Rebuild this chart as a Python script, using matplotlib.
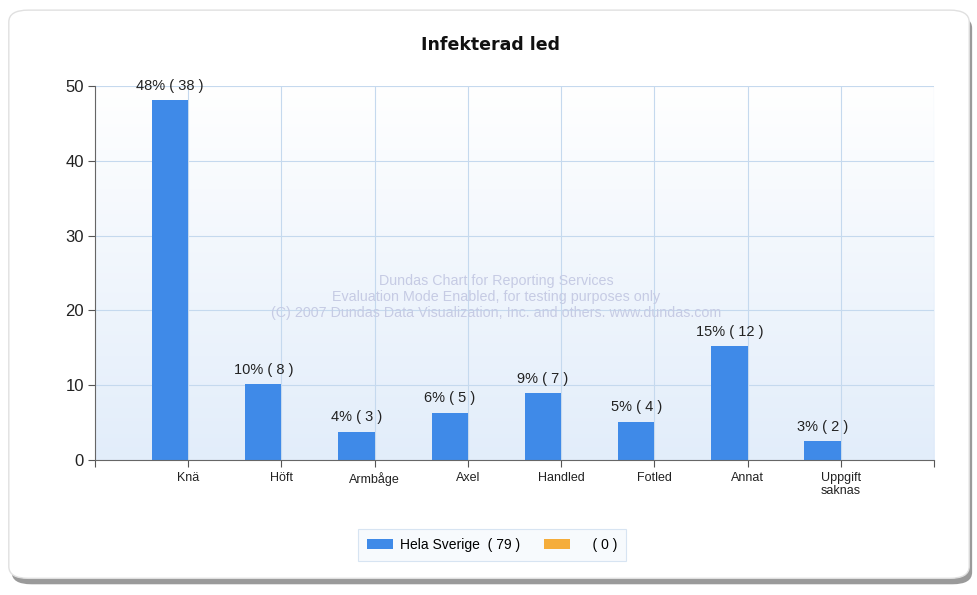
import numpy as np
import matplotlib.pyplot as plt
from matplotlib.colors import LinearSegmentedColormap
from matplotlib.patches import FancyBboxPatch

plt.rcParams['font.family'] = ['Liberation Sans', 'DejaVu Sans']

# data
categories = ['Knä', 'Höft', 'Armbåge', 'Axel', 'Handled', 'Fotled', 'Annat', 'Uppgift\nsaknas']
percent = [48.1, 10.1, 3.8, 6.3, 8.9, 5.1, 15.2, 2.5]
counts = [38, 8, 3, 5, 7, 4, 12, 2]
other = [0, 0, 0, 0, 0, 0, 0, 0]
pct_labels = ['48%', '10%', '4%', '6%', '9%', '5%', '15%', '3%']
series_names = ['Hela Sverige  ( 79 )', '    ( 0 )']

blue = '#3f8ae8'
orange = '#f5ad3b'

fig = plt.figure(figsize=(9.78, 5.95), dpi=100)
fig.patch.set_facecolor('white')

# card with shadow
shadow = FancyBboxPatch((0.012, 0.018), 0.982, 0.955, boxstyle='round,pad=0,rounding_size=0.02',
                        transform=fig.transFigure, facecolor='#9a9a9a', edgecolor='none', zorder=0)
card = FancyBboxPatch((0.009, 0.028), 0.982, 0.955, boxstyle='round,pad=0,rounding_size=0.02',
                      transform=fig.transFigure, facecolor='white', edgecolor='#e0e0e0', lw=1, zorder=0.5)
fig.patches.extend([shadow, card])

ax = fig.add_axes([0.0971, 0.2269, 0.858, 0.6286])
ax.set_zorder(3)
ax.set_xlim(0, 9)
ax.set_ylim(0, 50)

# gradient background
grad = np.linspace(0, 1, 256).reshape(-1, 1)
ax.imshow(grad, extent=[0, 9, 0, 50], aspect='auto', origin='lower', zorder=0,
          cmap=LinearSegmentedColormap.from_list('bg', ['#e2edfa', '#ffffff']))

x = np.arange(1, len(categories) + 1)
w = 0.39
ax.bar(x - w / 2, percent, width=w, color=blue, zorder=3, label=series_names[0])
ax.bar(x + w / 2, other, width=w, color=orange, zorder=3, label=series_names[1])

for xi, p, lab, c in zip(x, percent, pct_labels, counts):
    ax.text(xi - w / 2, p + 1.0, f'{lab} ( {c} )', ha='center', va='bottom', fontsize=10.5, color='#222222', zorder=4)

ax.set_xticks(np.arange(0, 10))
ax.set_xticklabels([''] + categories + [''], fontsize=9, color='#222222', linespacing=1.1)
ax.set_yticks([0, 10, 20, 30, 40, 50])
ax.tick_params(axis='y', labelsize=12, length=5, color='#555555', labelcolor='#222222', pad=3)
ax.tick_params(axis='x', length=5, color='#555555', pad=4)

ax.grid(True, color='#c5d9ee', lw=0.8, zorder=1)
for s in ['top', 'right']:
    ax.spines[s].set_visible(False)
for s in ['left', 'bottom']:
    ax.spines[s].set_color('#666666')
    ax.spines[s].set_zorder(5)

# watermark
ax.text(4.3, 21.8, 'Dundas Chart for Reporting Services\nEvaluation Mode Enabled, for testing purposes only\n'
        '(C) 2007 Dundas Data Visualization, Inc. and others. www.dundas.com',
        ha='center', va='center', fontsize=10.3, color='#c6cbe4', linespacing=1.2, zorder=2)

fig.text(0.502, 0.925, 'Infekterad led', ha='center', va='center', fontsize=12.5, fontweight='bold',
         family='DejaVu Sans', color='#111111')

leg = fig.legend(loc='center', bbox_to_anchor=(0.503, 0.0845), ncol=2, fontsize=10,
                 frameon=True, fancybox=False, handlelength=1.9, handleheight=0.75,
                 handletextpad=0.5, columnspacing=1.7, borderpad=0.65, borderaxespad=0)
leg.get_frame().set_edgecolor('#cfdff0')
leg.get_frame().set_facecolor('#f6f9fd')
leg.get_frame().set_linewidth(0.8)
leg._legend_box.sep = 0

fig.savefig('out.png', dpi=100)
